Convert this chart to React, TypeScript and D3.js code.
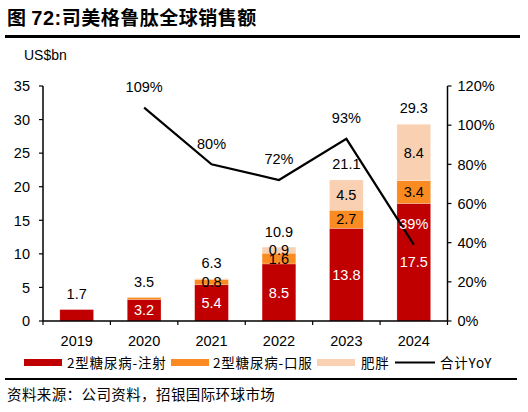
import React from 'react';
import * as d3 from 'd3';

const years = ['2019', '2020', '2021', '2022', '2023', '2024'];
const injection = [1.7, 3.2, 5.4, 8.5, 13.8, 17.5];
const oral = [0, 0.3, 0.8, 1.6, 2.7, 3.4];
const obesity = [0, 0, 0.1, 0.9, 4.5, 8.4];
const totals = [1.7, 3.5, 6.3, 10.9, 21.1, 29.3];
const yoy = [null, 1.09, 0.8, 0.72, 0.93, 0.39];
const leftTicks = [0, 5, 10, 15, 20, 25, 30, 35];
const rightTicks = [0, 0.2, 0.4, 0.6, 0.8, 1.0, 1.2];

const seriesNames = ['2型糖尿病-注射', '2型糖尿病-口服', '肥胖'];
const colors = ['#C00000', '#F98B22', '#F9D0B2'];

const W = 528;
const H = 412;
const plot = { left: 43, right: 447.5, top: 86, bottom: 321 };
const latin = '"Liberation Sans", Arial, sans-serif';
const cjk = '"Noto Sans CJK SC", sans-serif';

const App: React.FC = () => {
  const x = d3.scaleBand<string>().domain(years).range([plot.left, plot.right]).paddingInner(0.5).paddingOuter(0.25);
  const y = d3.scaleLinear().domain([0, 35]).range([plot.bottom, plot.top]);
  const y2 = d3.scaleLinear().domain([0, 1.2]).range([plot.bottom, plot.top]);
  const step = (plot.right - plot.left) / years.length;

  const rows = years.map((yr, i) => ({ year: yr, inj: injection[i], oral: oral[i], ob: obesity[i] }));
  const stack = d3.stack<any>().keys(['inj', 'oral', 'ob'])(rows);

  const linePts = years
    .map((yr, i) => ({ yr, v: yoy[i] }))
    .filter((d) => d.v !== null) as { yr: string; v: number }[];
  const line = d3
    .line<{ yr: string; v: number }>()
    .x((d) => (x(d.yr) as number) + x.bandwidth() / 2)
    .y((d) => y2(d.v));

  const legend = [
    { name: seriesNames[0], color: colors[0], x: 24, tx: 67, type: 'rect' },
    { name: seriesNames[1], color: colors[1], x: 171, tx: 213, type: 'rect' },
    { name: seriesNames[2], color: colors[2], x: 317, tx: 361, type: 'rect' },
    { name: '合计YoY', color: '#000', x: 395, tx: 440, type: 'line' },
  ];

  return (
    <svg width={W} height={H} style={{ position: 'absolute', left: 0, top: 0, background: '#fff' }}>
      {/* title */}
      <text x={7} y={25} fontSize={19} fontWeight="bold" fontFamily={cjk} fill="#000" letterSpacing={0.5}>
        图 <tspan fontFamily={latin} fontSize={20}>72:</tspan>司美格鲁肽全球销售额
      </text>
      <rect x={5} y={35} width={515} height={3} fill="#000" />

      <text x={24} y={60} fontSize={14} fontFamily={latin} fill="#000">US$bn</text>

      {/* bars */}
      {stack.map((layer, li) =>
        layer.map((d, i) => {
          const h = y(d[0]) - y(d[1]);
          if (h <= 0) return null;
          return (
            <rect
              key={`${li}-${i}`}
              x={x(years[i])}
              y={y(d[1])}
              width={x.bandwidth()}
              height={h}
              fill={colors[li]}
              stroke="#fff"
              strokeOpacity={0.35}
              strokeWidth={0.6}
            />
          );
        })
      )}

      {/* segment labels */}
      {stack.map((layer, li) =>
        layer.map((d, i) => {
          const v = d[1] - d[0];
          const show = li === 0 ? v >= 3 : v >= 0.5;
          if (!show) return null;
          return (
            <text
              key={`l${li}-${i}`}
              x={(x(years[i]) as number) + x.bandwidth() / 2}
              y={(y(d[0]) + y(d[1])) / 2}
              dy="0.36em"
              textAnchor="middle"
              fontSize={14.5}
              fontFamily={latin}
              fill={li === 0 ? '#fff' : '#000'}
            >
              {v.toFixed(1)}
            </text>
          );
        })
      )}

      {/* totals */}
      {totals.map((t, i) => (
        <text
          key={`t${i}`}
          x={(x(years[i]) as number) + x.bandwidth() / 2}
          y={y(t) - 16}
          dy="0.36em"
          textAnchor="middle"
          fontSize={14.5}
          fontFamily={latin}
          fill="#000"
        >
          {t.toFixed(1)}
        </text>
      ))}

      {/* YoY line */}
      <path d={line(linePts) as string} fill="none" stroke="#000" strokeWidth={2.2} />
      {linePts.map((d, i) => (
        <text
          key={`y${i}`}
          x={(x(d.yr) as number) + x.bandwidth() / 2}
          y={y2(d.v) - 21}
          dy="0.36em"
          textAnchor="middle"
          fontSize={14.5}
          fontFamily={latin}
          fill={i === linePts.length - 1 ? '#fff' : '#000'}
        >
          {Math.round(d.v * 100)}%
        </text>
      ))}

      {/* axes */}
      <g fontFamily={latin} fontSize={14.5}>
        <line x1={plot.left} x2={plot.left} y1={plot.top} y2={plot.bottom} stroke="#000" strokeWidth={1.5} />
        {leftTicks.map((t) => (
          <g key={`lt${t}`} transform={`translate(${plot.left},${y(t)})`}>
            <line x1={-4} x2={0} stroke="#000" strokeWidth={1.2} />
            <text x={-13} dy="0.36em" textAnchor="end" fill="#000">{t}</text>
          </g>
        ))}
        <line x1={plot.right} x2={plot.right} y1={plot.top} y2={plot.bottom} stroke="#000" strokeWidth={1.5} />
        {rightTicks.map((t) => (
          <g key={`rt${t}`} transform={`translate(${plot.right},${y2(t)})`}>
            <line x1={0} x2={4} stroke="#000" strokeWidth={1.2} />
            <text x={10} dy="0.36em" textAnchor="start" fill="#000">{d3.format('.0%')(t)}</text>
          </g>
        ))}
        <line x1={plot.left} x2={plot.right} y1={plot.bottom} y2={plot.bottom} stroke="#000" strokeWidth={1.5} />
        {d3.range(years.length + 1).map((k) => (
          <line
            key={`xt${k}`}
            x1={plot.left + k * step}
            x2={plot.left + k * step}
            y1={plot.bottom}
            y2={plot.bottom + 4}
            stroke="#000"
            strokeWidth={1.2}
          />
        ))}
        {years.map((yr) => (
          <text
            key={`xl${yr}`}
            x={(x(yr) as number) + x.bandwidth() / 2}
            y={plot.bottom + 20}
            dy="0.36em"
            textAnchor="middle"
            fill="#000"
          >
            {yr}
          </text>
        ))}
      </g>

      {/* legend */}
      {legend.map((l) => (
        <g key={l.name}>
          {l.type === 'rect' ? (
            <rect x={l.x} y={359} width={38} height={7} fill={l.color} />
          ) : (
            <line x1={l.x} x2={l.x + 40} y1={362.5} y2={362.5} stroke="#000" strokeWidth={2} />
          )}
          <text x={l.tx} y={363} dy="0.36em" fontSize={13.5} fontFamily={cjk} fill="#000" letterSpacing={0.8}>
            {l.name}
          </text>
        </g>
      ))}

      <rect x={5} y={378} width={512} height={2} fill="#000" />
      <text x={7} y={395} dy="0.36em" fontSize={14.5} fontFamily={cjk} fill="#000" letterSpacing={0.4}>
        资料来源：公司资料，招银国际环球市场
      </text>
    </svg>
  );
};

export default App;
